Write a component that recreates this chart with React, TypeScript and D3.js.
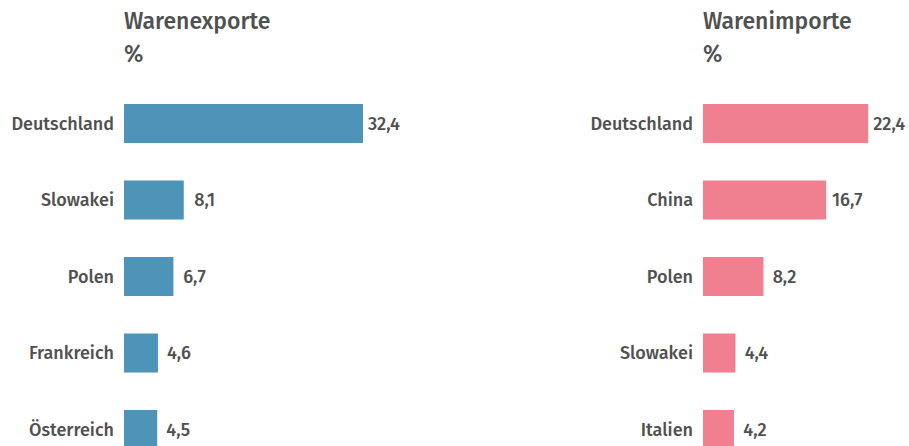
import React from "react";
import * as d3 from "d3";

const exportCountries = ["Deutschland", "Slowakei", "Polen", "Frankreich", "Österreich"];
const exportValues = [32.4, 8.1, 6.7, 4.6, 4.5];
const importCountries = ["Deutschland", "China", "Polen", "Slowakei", "Italien"];
const importValues = [22.4, 16.7, 8.2, 4.4, 4.2];
const panelTitles = ["Warenexporte", "Warenimporte"];
const unitLabel = "%";

const W = 909;
const H = 446;
const FONT = "'Fira Sans', 'Open Sans', 'Noto Sans', sans-serif";
const TEXT = "#505050";
const COLORS = ["#4e93b8", "#f08090"];

const x = d3.scaleLinear().domain([0, 32.4]).range([0, 239]);

function Panel({ left, title, cats, vals, color }: { left: number; title: string; cats: string[]; vals: number[]; color: string }) {
  const y = d3
    .scaleBand<string>()
    .domain(cats)
    .range([85.26, 85.26 + 76.5 * cats.length])
    .paddingInner(0.49)
    .paddingOuter(0.245);
  const fmt = (v: number) => d3.format(".1f")(v).replace(".", ",");
  return (
    <g transform={`translate(${left},0)`}>
      <text x={0} y={29.3} fontSize={23} fontWeight={500} fill={TEXT} fontFamily={FONT}>
        {title}
      </text>
      <text x={0} y={62} fontSize={23} fontWeight={500} fill={TEXT} fontFamily={FONT}>
        {unitLabel}
      </text>
      {cats.map((c, i) => {
        const yc = (y(c) as number) + y.bandwidth() / 2;
        return (
          <g key={c}>
            <rect x={x(0)} y={y(c)} width={x(vals[i]) - x(0)} height={y.bandwidth()} fill={color} />
            <text
              x={-10}
              y={yc}
              dy="0.36em"
              textAnchor="end"
              fontSize={18}
              fontWeight={500}
              fill={TEXT}
              fontFamily={FONT}
            >
              {c}
            </text>
            <text
              x={x(vals[i]) + 21}
              y={yc}
              dy="0.36em"
              textAnchor="middle"
              fontSize={18}
              fontWeight={500}
              fill={TEXT}
              fontFamily={FONT}
            >
              {fmt(vals[i])}
            </text>
          </g>
        );
      })}
    </g>
  );
}

export default function App() {
  return (
    <svg
      width={W}
      height={H}
      style={{ position: "absolute", left: 0, top: 0, background: "#fff" }}
    >
      <Panel left={124} title={panelTitles[0]} cats={exportCountries} vals={exportValues} color={COLORS[0]} />
      <Panel left={703} title={panelTitles[1]} cats={importCountries} vals={importValues} color={COLORS[1]} />
    </svg>
  );
}
